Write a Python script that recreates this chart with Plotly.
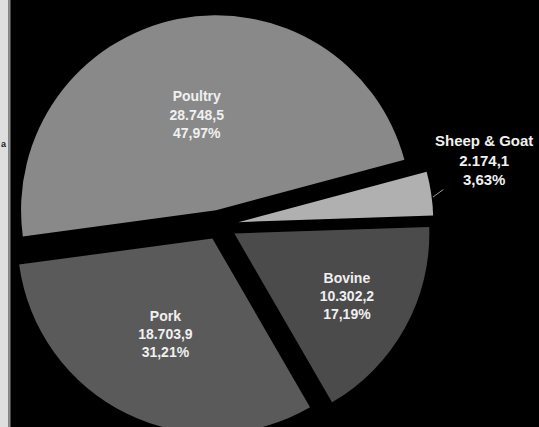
import plotly.graph_objects as go

# Data
labels = ["Sheep & Goat", "Poultry", "Pork", "Bovine"]
values = [2174.1, 28748.5, 18703.9, 10302.2]
colors = ["#b0b0b0", "#898989", "#5a5a5a", "#4b4b4b"]
pulls = [0.10, 0.077, 0.077, 0.09]
text_positions = ["none", "inside", "inside", "inside"]

W, H = 539, 450
total = sum(values)


def eu(num, decimals):
    s = f"{num:,.{decimals}f}"
    return s.replace(",", "X").replace(".", ",").replace("X", ".")


fig = go.Figure(
    go.Pie(
        labels=labels,
        values=values,
        sort=False,
        direction="counterclockwise",
        rotation=75,
        pull=pulls,
        marker=dict(colors=colors, line=dict(width=0)),
        texttemplate="<b>%{label}<br>%{value:,.1f}<br>%{percent:.2%}</b>",
        textposition=text_positions,
        insidetextorientation="horizontal",
        textfont=dict(family="Liberation Sans, Arial, sans-serif", size=14, color="#f0f0f0"),
        showlegend=False,
        hoverinfo="label+value+percent",
        domain=dict(x=[4.5 / W, 433.5 / W], y=[1 - 439.5 / H, 1 - 10.5 / H]),
    )
)

# outside label for the small slice, with a leader line
sheep_text = f"<b>{labels[0]}<br>{eu(values[0], 1)}<br>{eu(values[0] / total * 100, 2)}%</b>"

fig.update_layout(
    width=W,
    height=H,
    margin=dict(l=0, r=0, t=0, b=0, autoexpand=False),
    paper_bgcolor="black",
    separators=",.",
    shapes=[
        dict(type="rect", xref="paper", yref="paper", x0=0, x1=0.015, y0=0, y1=1,
             fillcolor="#dedede", line=dict(width=0), layer="above"),
        dict(type="rect", xref="paper", yref="paper", x0=0.015, x1=0.0195, y0=0, y1=1,
             fillcolor="#8e8e8e", line=dict(width=0), layer="above"),
    ],
    annotations=[
        dict(text="<b>a</b>", xref="paper", yref="paper", x=0, y=1 - 144 / H,
             xanchor="left", yanchor="middle", showarrow=False, borderpad=0,
             font=dict(family="Liberation Sans, Arial", size=9, color="#222")),
        dict(text=sheep_text, xref="paper", yref="paper", x=433 / W, y=1 - 197 / H,
             ax=51, ay=-37, showarrow=True, arrowhead=0, arrowwidth=1,
             arrowcolor="#9a9a9a", standoff=0,
             font=dict(family="Liberation Sans, Arial, sans-serif", size=15, color="#f0f0f0")),
    ],
)

fig.write_html("out.html")
